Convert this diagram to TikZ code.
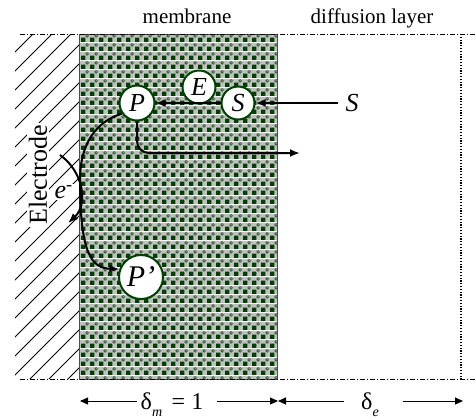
\documentclass[tikz,border=0pt]{standalone}
\usepackage{fontspec}
\setmainfont{Liberation Serif}
\usetikzlibrary{arrows.meta, patterns.meta}

\definecolor{mgreen}{RGB}{0,64,0}
\definecolor{mgray}{RGB}{192,192,192}

\tikzdeclarepattern{
	name=membranegrid,
	type=colored,
	bottom left={(0pt,0pt)},
	top right={(4.5pt,4.5pt)},
	tile size={(4.5pt,4.5pt)},
	code={
		\fill[mgray] (0pt,0pt) rectangle (4.5pt,4.5pt);
		\fill[mgreen] (0pt,0pt) rectangle (2.4pt,2.4pt);
		\draw[mgreen!75!mgray, line width=0.45pt] (3.4pt,3.4pt) circle (0.75pt);
	}
}

\tikzset{
	mol/.style={circle, draw=mgreen, line width=1pt, fill=white, inner sep=0pt, font=\fontsize{13}{15}\selectfont\itshape},
	flow/.style={-{Latex[length=5pt,width=4pt]}, line width=1pt},
	dimarrow/.style={-{Triangle[length=4pt,width=3.5pt]}, line width=0.5pt},
	bound/.style={line width=0.5pt, dash pattern=on 2.5pt off 1pt on 0.5pt off 1pt},
	caption/.style={font=\fontsize{10.5}{12}\selectfont, anchor=base},
	dimlab/.style={font=\fontsize{12}{14}\selectfont, anchor=base, inner sep=1pt}
}

\begin{document}
\begin{tikzpicture}[x=0.5pt, y=-0.5pt]
	\useasboundingbox (0,0) rectangle (476,419);
	\begin{scope}
		\clip (15,34) rectangle (79,379);
		\foreach \x in {-350,-331,...,79}
			\draw[line width=0.4pt] (\x,379) -- ++(350,-350);
	\end{scope}
	\fill[pattern=membranegrid] (79,34) rectangle (277,379);
	\draw[line width=0.5pt, black!70] (79,34) rectangle (277,379);
	\draw[bound] (20,34) -- (476,34);
	\draw[bound] (20,379) -- (476,379);
	\draw[line width=0.6pt, dash pattern=on 0.6pt off 0.8pt] (461,34) -- (461,379);
	\node[caption] (membr) at (187,23) {membrane};
	\node[caption] (difflayer) at (372,23) {diffusion layer};
	\node[rotate=90, fill=white, inner sep=1pt, font=\fontsize{13}{15}\selectfont] (electrode) at (38,175) {Electrode};
	\node[mol, minimum size=17.5pt] (P) at (137,103) {P};
	\node[mol, minimum size=16.5pt] (S) at (238,103) {S};
	\node[mol, minimum size=16.5pt] (E) at (199,87) {E};
	\node[mol, minimum size=22pt, font=\fontsize{15}{17}\selectfont\itshape] (Pp) at (141,277) {P’};
	\node[font=\fontsize{13}{15}\selectfont\itshape] (Sin) at (352,103) {S};
	\node[fill=white, inner sep=0.5pt, font=\fontsize{13}{15}\selectfont] (elec) at (64,192) {\textit{e}\textsuperscript{-}};
	\coordinate (Pout) at (300,153);
	\coordinate (eA) at (60,155);
	\coordinate (eB) at (68,223);
	\draw[flow] (Sin) -- (S);
	\draw[flow, line width=0.7pt] (S) -- (P);
	\draw[flow, rounded corners=6pt] (P.south) |- (Pout);
	\draw[flow] (P.215) .. controls (95,122) and (80,145) .. (80,180) .. controls (80,255) and (92,268) .. (Pp.160);
	\draw[flow] (eA) .. controls (84,172) and (88,205) .. (eB);
	\node[dimlab] (dm) at (172,409) {δ\raisebox{-0.7ex}{\fontsize{7}{8}\selectfont\itshape m}\hspace{0.4em}= 1};
	\node[dimlab] (de) at (370,409) {δ\raisebox{-0.7ex}{\fontsize{7}{8}\selectfont\itshape e}};
	\coordinate (mL) at (80,401);
	\coordinate (mA) at (137,401);
	\coordinate (mB) at (217,401);
	\coordinate (mR) at (278,401);
	\coordinate (eC) at (344,401);
	\coordinate (eD) at (403,401);
	\coordinate (eR) at (463,401);
	\draw[dimarrow] (mA) -- (mL);
	\draw[dimarrow] (mB) -- (mR);
	\draw[dimarrow] (eC) -- (mR);
	\draw[dimarrow] (eD) -- (eR);
\end{tikzpicture}
\end{document}
